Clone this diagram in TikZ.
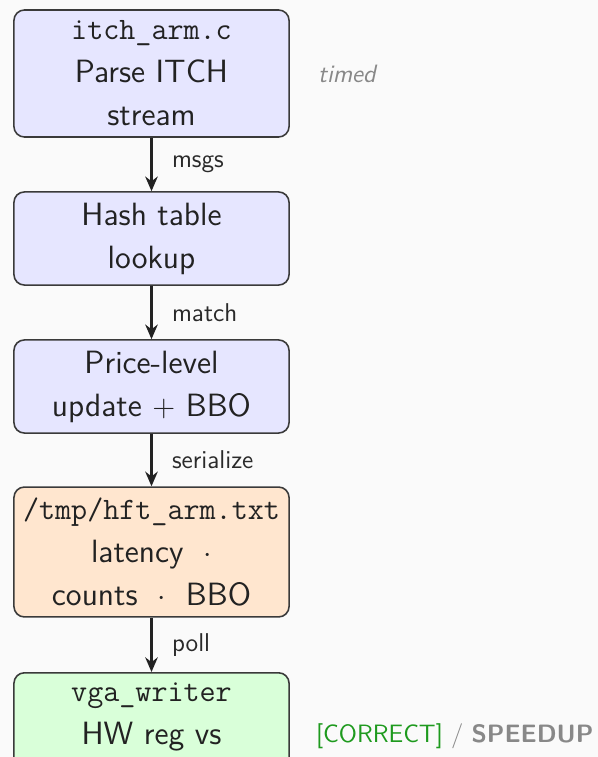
\documentclass[tikz,border=0pt]{standalone}
\usepackage{fontspec}
\usetikzlibrary{arrows.meta,positioning}
\definecolor{bg}{HTML}{FAFAFA}
\definecolor{boxline}{HTML}{3A3A3A}
\definecolor{textdark}{HTML}{222222}
\definecolor{arrowc}{HTML}{222222}
\definecolor{labelc}{HTML}{2A2A2A}
\definecolor{bluefill}{HTML}{E6E6FF}
\definecolor{orangefill}{HTML}{FFE6CF}
\definecolor{greenfill}{HTML}{D9FFD9}
\definecolor{okgreen}{HTML}{1E9A1E}
\definecolor{notegray}{HTML}{888888}
\newcommand{\mono}[1]{{\fontsize{14.9}{20.6}\selectfont\ttfamily #1}}
\newcommand{\sepdot}{\hspace{0.62em}$\cdot$\hspace{0.62em}}
\begin{document}
\begin{tikzpicture}[x=0.478pt,y=-0.478pt,
  box/.style={draw=boxline, line width=0.75pt, rounded corners=5pt,
    minimum width=131.5pt, inner sep=0pt, align=center, text=textdark,
    font={\fontsize{15.4}{20.6}\selectfont\sffamily}},
  flow/.style={-{Stealth[length=7pt,width=6pt]}, line width=1pt, draw=arrowc},
  lbl/.style={anchor=west, xshift=6pt, text=labelc, font={\fontsize{12.3}{15}\selectfont\sffamily}},
  note/.style={text=notegray, font=\large\sffamily\itshape}]
\useasboundingbox (0,0) rectangle (598,757);
\fill[bg] (0,0) rectangle (598,757);
\clip (0,0) rectangle (598,757);

\node[box, fill=bluefill, minimum height=60.7pt] (b1) at (151.5,73.5)
  {\mono{itch\_arm.c}\\Parse ITCH\\stream};
\node[box, fill=bluefill, minimum height=44.5pt] (b2) at (151.5,238.5)
  {Hash table\\lookup};
\node[box, fill=bluefill, minimum height=44.5pt] (b3) at (151.5,386.5)
  {Price-level\\update $+$ BBO};
\node[box, fill=orangefill, minimum height=62.1pt] (b4) at (151.5,552)
  {\mono{/tmp/hft\_arm.txt}\\latency\sepdot\\counts\sepdot BBO};
\node[box, fill=greenfill, minimum height=66pt, anchor=north] (b5) at (151.5,672)
  {\mono{vga\_writer}\\HW reg vs\\\strut};

\draw[flow] (b1) -- node[lbl] {msgs} (b2);
\draw[flow] (b2) -- node[lbl] {match} (b3);
\draw[flow] (b3) -- node[lbl] {serialize} (b4);
\draw[flow] (b4) -- node[lbl] {poll} (b5);

\node[note, right=10pt of b1] (timed) {timed};
\node[anchor=west, font=\large\sffamily, right=9pt of b5, yshift=2.5pt] (status)
  {\textcolor{okgreen}{[CORRECT]} \textcolor{notegray}{/ \textbf{SPEEDUP}}};
\end{tikzpicture}
\end{document}
